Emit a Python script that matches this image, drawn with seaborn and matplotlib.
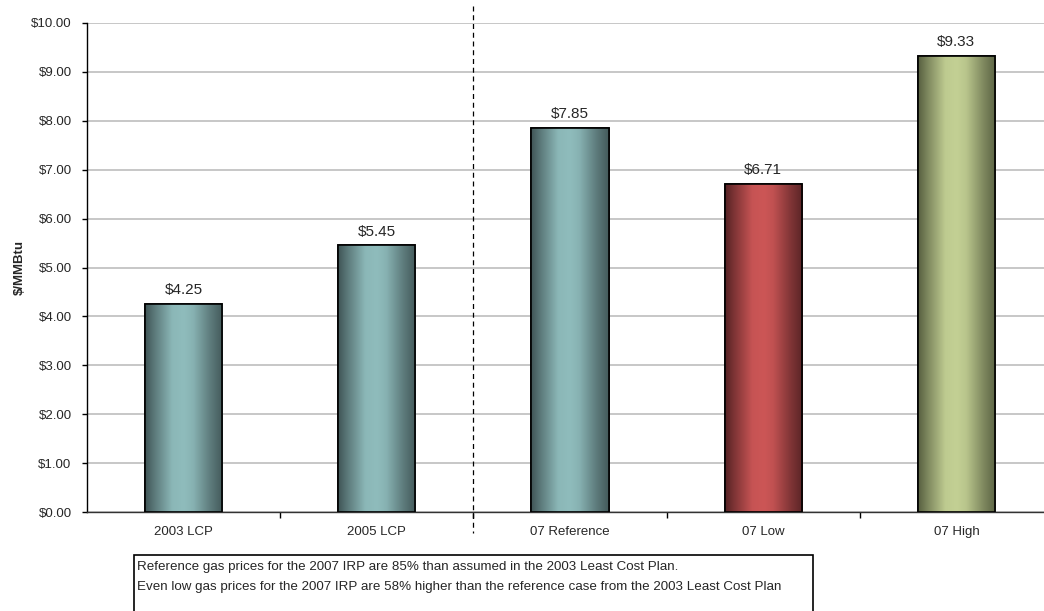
import numpy as np
import pandas as pd
import matplotlib
matplotlib.use("Agg")
import matplotlib.pyplot as plt
import matplotlib.transforms as mtransforms
from matplotlib.colors import LinearSegmentedColormap
from matplotlib.patches import Rectangle
import seaborn as sns

# data
categories = ["2003 LCP", "2005 LCP", "07 Reference", "07 Low", "07 High"]
prices = [4.25, 5.45, 7.85, 6.71, 9.33]
y_ticks = np.arange(0, 11, 1)
note_lines = [
    "Reference gas prices for the 2007 IRP are 85% than assumed in the 2003 Least Cost Plan.",
    "Even low gas prices for the 2007 IRP are 58% higher than the reference case from the 2003 Least Cost Plan",
]

# gradient colours (dark edge, light centre) per bar
bar_grads = [
    ("#405556", "#8fbcbc"),
    ("#405556", "#8fbcbc"),
    ("#405556", "#8fbcbc"),
    ("#552224", "#cc5656"),
    ("#575f40", "#c3d094"),
]

sns.set_theme(style="white")
plt.rcParams["font.family"] = ["Liberation Sans", "DejaVu Sans"]

df = pd.DataFrame({"case": categories, "price": prices})

fig = plt.figure(figsize=(10.44, 6.11), dpi=100)
W, H = 1044, 611
left, right, top, bottom = 87, 1053, 23, 512
ax = fig.add_axes([left / W, 1 - bottom / H, (right - left) / W, (bottom - top) / H])

sns.barplot(data=df, x="case", y="price", ax=ax, width=0.40,
            color="white", edgecolor="black", linewidth=1.2, zorder=3)

ax.set_xlim(-0.5, 4.5)
ax.set_ylim(0, 10)
ax.set_yticks(y_ticks)
ax.set_yticklabels([f"${v:.2f}" for v in y_ticks], fontsize=9.5)
ax.yaxis.grid(True, color="#bdbdbd", linewidth=1.2, zorder=0)
ax.xaxis.grid(False)
ax.set_axisbelow(True)
ax.tick_params(axis="y", length=3.6, width=1, color="black", pad=7.5, direction="out", left=True)
ax.tick_params(axis="x", length=0, pad=10, labelsize=9.5)
ax.set_xticks(np.arange(0.5, 4.5, 1), minor=True)
ax.tick_params(axis="x", which="minor", length=4, width=1, color="black", bottom=True, direction="out")
ax.set_xlabel("")
ax.set_ylabel("$/MMBtu", fontsize=9.5, fontweight="bold", labelpad=4)

for s in ["top", "right"]:
    ax.spines[s].set_visible(False)
ax.spines["left"].set_color("black")
ax.spines["bottom"].set_color("#333333")
ax.spines["left"].set_linewidth(1)
ax.spines["bottom"].set_linewidth(1)

# gradient fills clipped to the bars
prof_x = [0.0, 0.12, 0.35, 0.5, 0.62, 0.85, 1.0]
prof_v = [0.0, 0.35, 0.95, 1.0, 0.9, 0.35, 0.05]
xs = np.linspace(0, 1, 256)
prof = np.interp(xs, prof_x, prof_v)
for patch, (dark, light), val in zip(ax.patches, bar_grads, prices):
    cmap = LinearSegmentedColormap.from_list("g", [dark, light])
    x0 = patch.get_x()
    w = patch.get_width()
    im = ax.imshow(prof[np.newaxis, :], cmap=cmap, vmin=0, vmax=1, aspect="auto",
                   extent=[x0, x0 + w, 0, val], origin="lower", zorder=3.5,
                   interpolation="bicubic")
    im.set_clip_path(patch)
    ax.add_patch(Rectangle((x0, 0), w, val, fill=False, edgecolor="black",
                           linewidth=1.2, zorder=4))
    ax.annotate(f"${val:.2f}", (x0 + w / 2, val), xytext=(0, 5),
                textcoords="offset points", ha="center", va="bottom", fontsize=11)

ax.set_xlim(-0.5, 4.5)
ax.set_ylim(0, 10)

# dashed separator between older plans and 2007 cases
trans = mtransforms.blended_transform_factory(ax.transData, ax.transAxes)
ax.plot([1.5, 1.5], [1.035, -0.043], transform=trans, color="black",
        linestyle=(0, (4, 3)), linewidth=0.9, clip_on=False, zorder=5)

# note box below the chart
fig.patches.append(Rectangle((134 / W, -0.01), (813 - 134) / W, (H - 555) / H + 0.01,
                             transform=fig.transFigure, fill=False,
                             edgecolor="black", linewidth=1.2))
for i, line in enumerate(note_lines):
    fig.text(137 / W, 1 - (567 + 20 * i) / H, line, fontsize=9.6,
             ha="left", va="center")

fig.savefig("out.png", dpi=100)
